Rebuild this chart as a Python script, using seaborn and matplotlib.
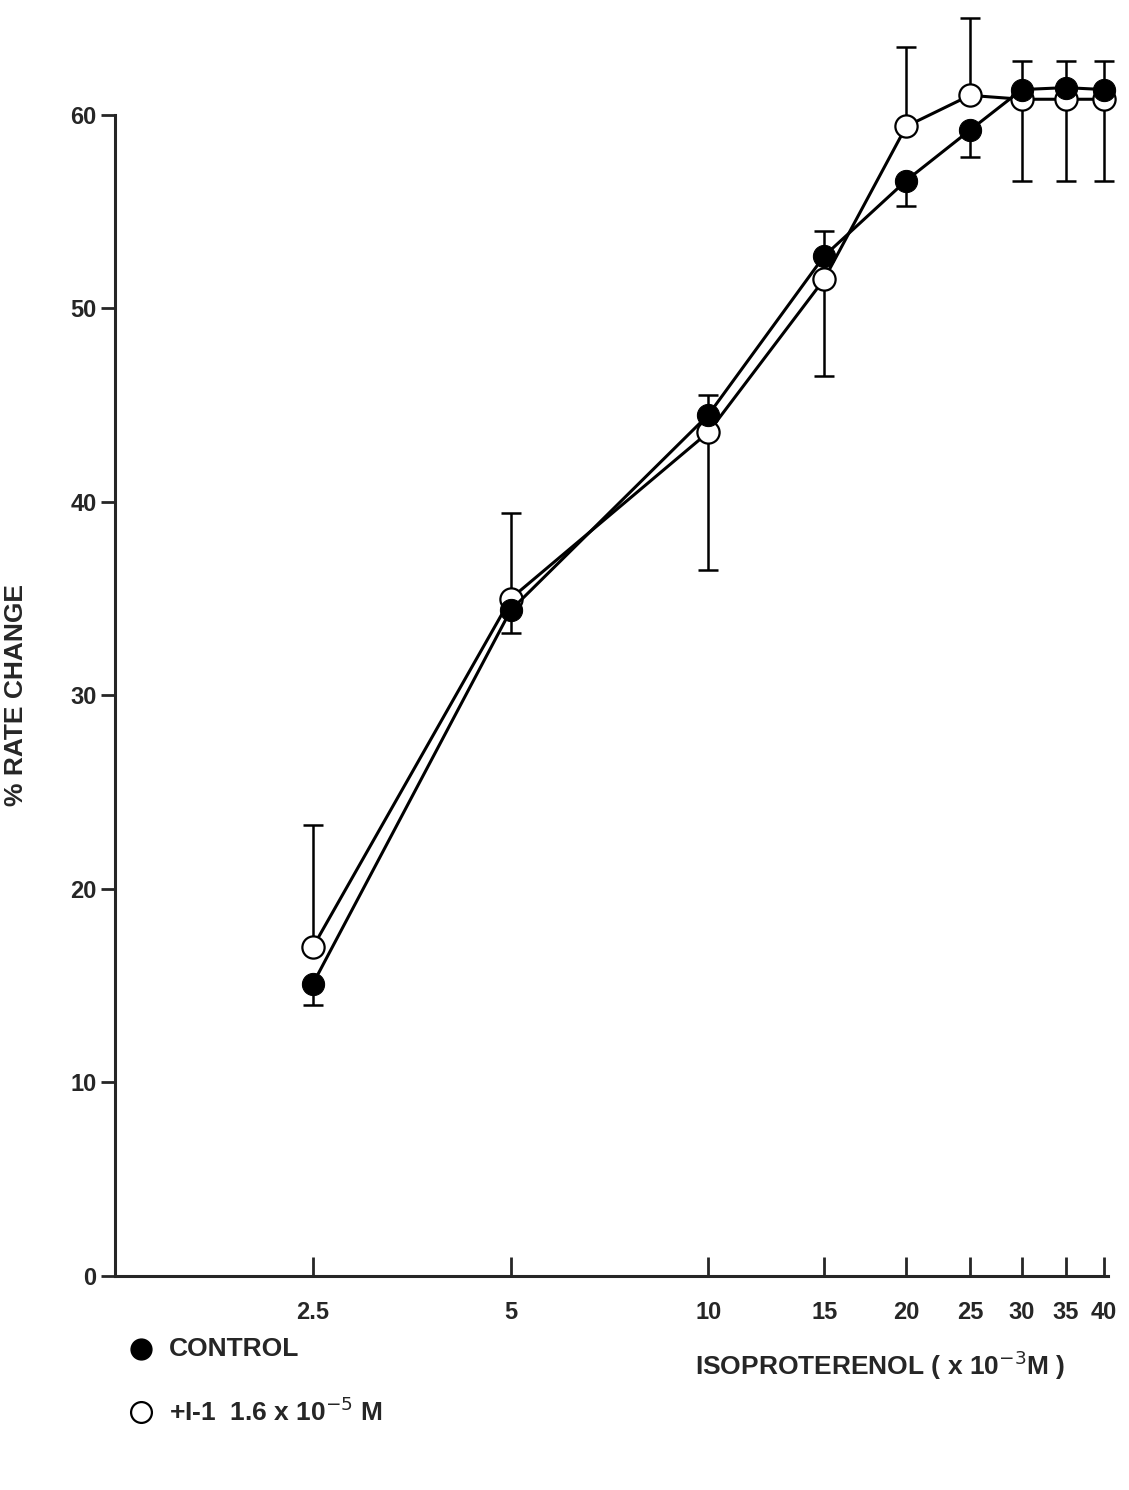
import numpy as np
import seaborn as sns
import matplotlib.pyplot as plt
from matplotlib.lines import Line2D

conc = [2.5, 5, 10, 15, 20, 25, 30, 35, 40]
tick_labels = ["2.5", "5", "10", "15", "20", "25", "30", "35", "40"]
control = [15.1, 34.4, 44.5, 52.7, 56.6, 59.2, 61.3, 61.4, 61.3]
control_err_lo = [1.1, 1.2, 0, 0, 1.3, 1.4, 0, 0, 0]
control_err_hi = [0, 0, 1.0, 1.3, 0, 0, 1.5, 1.4, 1.5]
treated = [17.0, 35.0, 43.6, 51.5, 59.4, 61.0, 60.8, 60.8, 60.8]
treated_err_lo = [0, 0, 7.1, 5.0, 0, 0, 4.2, 4.2, 4.2]
treated_err_hi = [6.3, 4.4, 0, 0, 4.1, 4.0, 0, 0, 0]

sns.set_style("ticks")
plt.rcParams["font.family"] = ["Liberation Sans", "DejaVu Sans"]
fig = plt.figure(figsize=(11.29, 14.9), dpi=100)
ax = fig.add_axes([0.102, 0.1436, 0.879, 0.7794])

for y, lo, hi in [(treated, treated_err_lo, treated_err_hi),
                  (control, control_err_lo, control_err_hi)]:
    eb = ax.errorbar(conc, y, yerr=[lo, hi], fmt="none", ecolor="black",
                     elinewidth=1.8, capsize=7, capthick=1.8, zorder=1)
    for art in eb.lines[1] + eb.lines[2]:
        art.set_clip_on(False)
sns.lineplot(x=conc, y=treated, ax=ax, color="black", lw=2.2, marker="o",
             markersize=16, markerfacecolor="white", markeredgecolor="black",
             markeredgewidth=1.6, zorder=3, clip_on=False)
sns.lineplot(x=conc, y=control, ax=ax, color="black", lw=2.2, marker="o",
             markersize=16, markerfacecolor="black", markeredgecolor="black",
             zorder=4, clip_on=False)

ax.set_xscale("log")
ax.set_xlim(1.25, 40.5)
ax.set_ylim(0, 60)
ax.set_xticks(conc)
ax.set_xticklabels(tick_labels)
ax.minorticks_off()
ax.set_yticks(range(0, 61, 10))
ax.tick_params(axis="x", direction="in", length=14, width=2, labelsize=17, pad=18)
ax.tick_params(axis="y", direction="out", length=10, width=2, labelsize=17)
for lab in ax.get_xticklabels() + ax.get_yticklabels():
    lab.set_fontweight("bold")
for s in ["top", "right"]:
    ax.spines[s].set_visible(False)
for s in ["left", "bottom"]:
    ax.spines[s].set_linewidth(2.2)
ax.set_ylabel("% RATE CHANGE", fontsize=19, labelpad=30, fontweight="bold")

fig.text(0.78, 0.0835, r"ISOPROTERENOL ( x 10$^{-3}$M )", fontsize=19,
         va="center", ha="center", fontweight="bold")
fig.add_artist(Line2D([0.125], [0.0946], marker="o", markersize=15,
                      color="black", transform=fig.transFigure))
fig.add_artist(Line2D([0.125], [0.0523], marker="o", markersize=15,
                      markerfacecolor="white", markeredgecolor="black",
                      markeredgewidth=1.6, transform=fig.transFigure))
fig.text(0.15, 0.0946, "CONTROL", fontsize=19, va="center", fontweight="bold")
fig.text(0.15, 0.0523, r"+I-1  1.6 x 10$^{-5}$ M", fontsize=19, va="center",
         fontweight="bold")

fig.savefig("out.png", dpi=100, facecolor="white")
